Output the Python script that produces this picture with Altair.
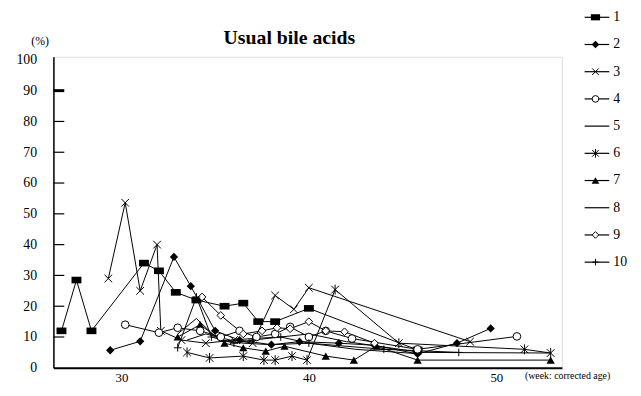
import altair as alt
import pandas as pd

# ---- data ----
series_names = ["1", "2", "3", "4", "5", "6", "7", "8", "9", "10"]

s1_x = [26.8, 27.6, 28.4, 31.2, 32.0, 32.9, 34.0, 35.5, 36.5, 37.3, 38.2, 40.0, 45.8]
s1_y = [12, 28.5, 12, 34, 31.5, 24.5, 22, 20, 21, 15, 15, 19.3, 5.8]

s2_x = [29.4, 31.0, 32.8, 33.7, 35.0, 36.3, 38.0, 39.5, 41.6, 43.5, 45.8, 47.9, 49.7]
s2_y = [5.7, 8.6, 36, 26.5, 12, 9, 7.5, 8.5, 8, 7.3, 4.5, 8, 12.8]

s3_x = [29.3, 30.2, 31.0, 31.9, 32.1, 33.2, 34.5, 36.0, 37.0, 38.2, 39.2, 40.0, 48.6]
s3_y = [29, 53.6, 25, 40, 12, 9, 8, 9, 8, 23.5, 19, 26, 8.5]

s4_x = [30.2, 32.0, 33.0, 34.2, 35.3, 36.3, 37.2, 38.2, 39.0, 40.0, 40.9, 42.3, 45.8, 51.1]
s4_y = [14, 11.4, 13, 12, 10, 12, 10, 11, 13.3, 10, 12, 9.5, 6, 10.2]

s5_x = [33.0, 34.0, 35.2, 36.5, 38.0, 40.0, 42.5, 46.0]
s5_y = [11, 16, 9, 8, 7.5, 8, 6, 4.5]

s6_x = [33.5, 34.7, 36.5, 37.6, 38.2, 39.1, 39.9, 41.4, 44.8, 51.5, 52.9]
s6_y = [5, 3.2, 3.8, 2.5, 2.5, 3.8, 2.5, 25.4, 8, 6, 4.8]

s7_x = [33.0, 34.2, 35.5, 36.5, 37.7, 38.7, 40.9, 42.4, 43.6, 45.8, 52.9]
s7_y = [10, 14, 8, 6.5, 5.4, 7, 3.8, 2.5, 7, 2.5, 2.5]

s8_x = [33.5, 34.5, 35.8, 37.0, 38.5, 40.0, 42.0, 46.0, 52.9]
s8_y = [9, 11, 9, 9.5, 10, 11, 8.5, 5, 4.8]

s9_x = [34.3, 35.3, 36.5, 37.5, 38.3, 39.0, 40.0, 40.9, 41.9, 43.5]
s9_y = [23, 17, 11, 12, 13, 12.7, 15, 12, 11.7, 8]

s10_x = [33.0, 34.0, 34.8, 36.0, 37.0, 38.5, 40.0, 44.0, 48.0]
s10_y = [6.5, 23, 10, 8, 9, 10, 8, 6, 5]

x_ticks = [30, 40, 50]
y_ticks = [0, 10, 20, 30, 40, 50, 60, 70, 80, 90, 100]
inner_ticks = [10, 20, 30, 40, 50, 60, 70, 80, 90]
title_text = ["Usual bile acids"]

all_x = [s1_x, s2_x, s3_x, s4_x, s5_x, s6_x, s7_x, s8_x, s9_x, s10_x]
all_y = [s1_y, s2_y, s3_y, s4_y, s5_y, s6_y, s7_y, s8_y, s9_y, s10_y]

rows = []
for name, xs, ys in zip(series_names, all_x, all_y):
    for i, (a, b) in enumerate(zip(xs, ys)):
        rows.append({"s": name, "x": a, "y": b, "o": i})
df = pd.DataFrame(rows)

filled_series = ["1", "2", "7"]
open_series = ["3", "4", "6", "9", "10"]

shape_domain = ["1", "2", "7", "3", "4", "6", "9", "10"]
shape_range = [
    "M-1.2,-0.8H1.2V0.8H-1.2Z",
    "diamond",
    "triangle-up",
    "M-1,-1L1,1M-1,1L1,-1",
    "circle",
    "M-1,-1L1,1M-1,1L1,-1M0,-1.3L0,1.3",
    "diamond",
    "M-1,0L1,0M0,-1L0,1",
]
shape_scale = alt.Scale(domain=shape_domain, range=shape_range)

serif = "Liberation Serif"

xscale = alt.Scale(domain=[26.37, 53.5], nice=False, zero=False)
yscale = alt.Scale(domain=[0, 101], nice=False)

xaxis = alt.Axis(
    values=x_ticks, ticks=False, tickSize=0, grid=False, labelPadding=4,
    labelFont=serif, labelFontSize=13, labelColor="black",
    domainColor="black", domainWidth=2,
    title="(week: corrected age)", titleFont=serif, titleFontSize=10,
    titleFontWeight="normal", titleColor="black", titleAngle=0,
    titleX=477, titleY=8, titleAlign="left", titleBaseline="middle",
)
yaxis = alt.Axis(
    values=y_ticks, ticks=False, tickSize=0, grid=False, labelPadding=17,
    labelFont=serif, labelFontSize=14, labelColor="black",
    domainColor="black", domainWidth=1.5,
    title="(%)", titleFont=serif, titleFontSize=12, titleFontWeight="normal",
    titleColor="black", titleAngle=0, titleX=-14, titleY=-16,
    titleAlign="center", titleBaseline="middle",
)

X = alt.X("x:Q", scale=xscale, axis=xaxis)
Y = alt.Y("y:Q", scale=yscale, axis=yaxis)

lines = alt.Chart(df).mark_line(color="black", strokeWidth=1).encode(
    x=X, y=Y, detail="s:N", order="o:Q"
)

pts_filled = alt.Chart(df).transform_filter(
    alt.FieldOneOfPredicate(field="s", oneOf=filled_series)
).mark_point(filled=True, color="black", opacity=1, size=70).encode(
    x=X, y=Y, shape=alt.Shape("s:N", scale=shape_scale, legend=None)
)

pts_open = alt.Chart(df).transform_filter(
    alt.FieldOneOfPredicate(field="s", oneOf=open_series)
).mark_point(filled=False, fill="white", fillOpacity=1, stroke="black",
             strokeWidth=1, opacity=1, size=60).encode(
    x=X, y=Y, shape=alt.Shape("s:N", scale=shape_scale, legend=None)
)

ticks_df = pd.DataFrame({"y": inner_ticks})
ticks = alt.Chart(ticks_df).mark_rule(color="black").encode(
    y=Y,
    x=alt.value(0),
    x2=alt.value(11),
    strokeWidth=alt.condition(alt.datum.y == 90, alt.value(3), alt.value(1.2)),
)

main = alt.layer(lines, ticks, pts_filled, pts_open)

# ---- legend (drawn at the right of the plot) ----
leg_df = pd.DataFrame({"s": series_names, "row": list(range(1, 11))})
LY = alt.Y("row:Q", scale=alt.Scale(domain=[1, 10], range=[-40, 208]), axis=None)

leg_rule = alt.Chart(leg_df).mark_rule(color="black", strokeWidth=1.2).encode(
    y=LY, x=alt.value(538), x2=alt.value(563)
)
leg_filled = alt.Chart(leg_df).transform_filter(
    alt.FieldOneOfPredicate(field="s", oneOf=filled_series)
).mark_point(filled=True, color="black", opacity=1, size=60).encode(
    y=LY, x=alt.value(549), shape=alt.Shape("s:N", scale=shape_scale, legend=None)
)
leg_open = alt.Chart(leg_df).transform_filter(
    alt.FieldOneOfPredicate(field="s", oneOf=open_series)
).mark_point(filled=False, fill="white", fillOpacity=1, stroke="black",
             strokeWidth=1, opacity=1, size=45).encode(
    y=LY, x=alt.value(549), shape=alt.Shape("s:N", scale=shape_scale, legend=None)
)
leg_text = alt.Chart(leg_df).mark_text(
    align="left", baseline="middle", font=serif, fontSize=14, color="black"
).encode(y=LY, x=alt.value(567), text="s:N")

legend = alt.layer(leg_rule, leg_filled, leg_open, leg_text)

title = alt.Chart(pd.DataFrame({"t": title_text})).mark_text(
    font=serif, fontSize=20, fontWeight="bold", color="black",
    align="center", baseline="middle"
).encode(x=alt.value(239), y=alt.value(-19), text="t:N")

chart = alt.layer(main, legend, title).resolve_scale(y="independent").properties(
    width=515, height=315,
    autosize=alt.AutoSizeParams(type="none"),
    padding={"left": 46, "top": 47, "right": 72, "bottom": 14},
).configure_view(stroke="black", strokeWidth=1).configure(background="white")

chart.save("out.html", embed_options={"renderer": "svg", "actions": False})
